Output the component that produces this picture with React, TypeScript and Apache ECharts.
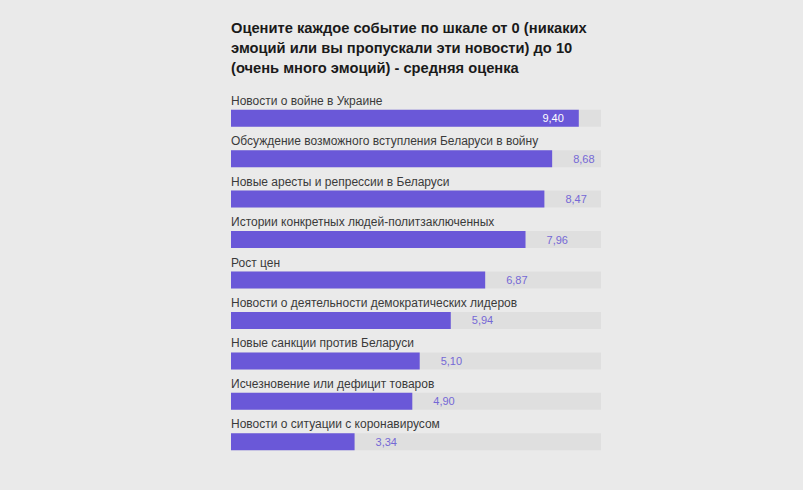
import React, { useEffect, useRef } from "react";
import * as echarts from "echarts";

const titleLines = [
  "Оцените каждое событие по шкале от 0 (никаких",
  "эмоций или вы пропускали эти новости) до 10",
  "(очень много эмоций) - средняя оценка",
];

const categories = [
  "Новости о войне в Украине",
  "Обсуждение возможного вступления Беларуси в войну",
  "Новые аресты и репрессии в Беларуси",
  "Истории конкретных людей-политзаключенных",
  "Рост цен",
  "Новости о деятельности демократических лидеров",
  "Новые санкции против Беларуси",
  "Исчезновение или дефицит товаров",
  "Новости о ситуации с коронавирусом",
];

const values = [9.4, 8.68, 8.47, 7.96, 6.87, 5.94, 5.1, 4.9, 3.34];

const scaleMax = 10;

const PURPLE = "#6a58d8";
const TRACK = "#dfdfdf";
const BG = "#eaeaea";
const FONT = "'Liberation Sans', Arial, sans-serif";

export default function App() {
  const ref = useRef<HTMLDivElement>(null);
  useEffect(() => {
    document.body.style.margin = "0";
    if (!ref.current) return;
    const chart = echarts.init(ref.current, null, { renderer: "svg" });
    const fmt = (v: number) => v.toFixed(2).replace(".", ",");
    chart.setOption({
      animation: false,
      backgroundColor: BG,
      title: {
        text: titleLines.join("\n"),
        left: 226,
        top: 13,
        textStyle: {
          fontFamily: FONT,
          fontSize: 14.7,
          fontWeight: "bold",
          color: "#1a1a1a",
          lineHeight: 20,
        },
      },
      grid: { left: 231, right: 202, top: 98, bottom: 28 },
      xAxis: {
        type: "value",
        min: 0,
        max: scaleMax,
        show: false,
      },
      yAxis: {
        type: "category",
        data: categories,
        inverse: true,
        show: false,
      },
      series: [
        {
          type: "bar",
          data: categories.map(() => scaleMax),
          barWidth: 17,
          itemStyle: { color: TRACK },
          silent: true,
          label: {
            show: true,
            position: [0, -9],
            align: "left",
            verticalAlign: "middle",
            formatter: (p: any) => p.name,
            fontFamily: FONT,
            fontSize: 12,
            color: "#3a3a3a",
          },
        },
        {
          type: "bar",
          data: values.map((v) => ({
            value: v,
            label:
              v > 9
                ? { position: "insideRight", distance: 15, color: "#ffffff" }
                : { position: "right", distance: 21, color: "#7568d6" },
          })),
          barWidth: 17,
          barGap: "-100%",
          itemStyle: { color: PURPLE },
          label: {
            show: true,
            formatter: (p: any) => fmt(p.value),
            fontFamily: FONT,
            fontSize: 11,
          },
        },
      ],
    });
    return () => chart.dispose();
  }, []);
  return <div ref={ref} style={{ width: 803, height: 490 }} />;
}
